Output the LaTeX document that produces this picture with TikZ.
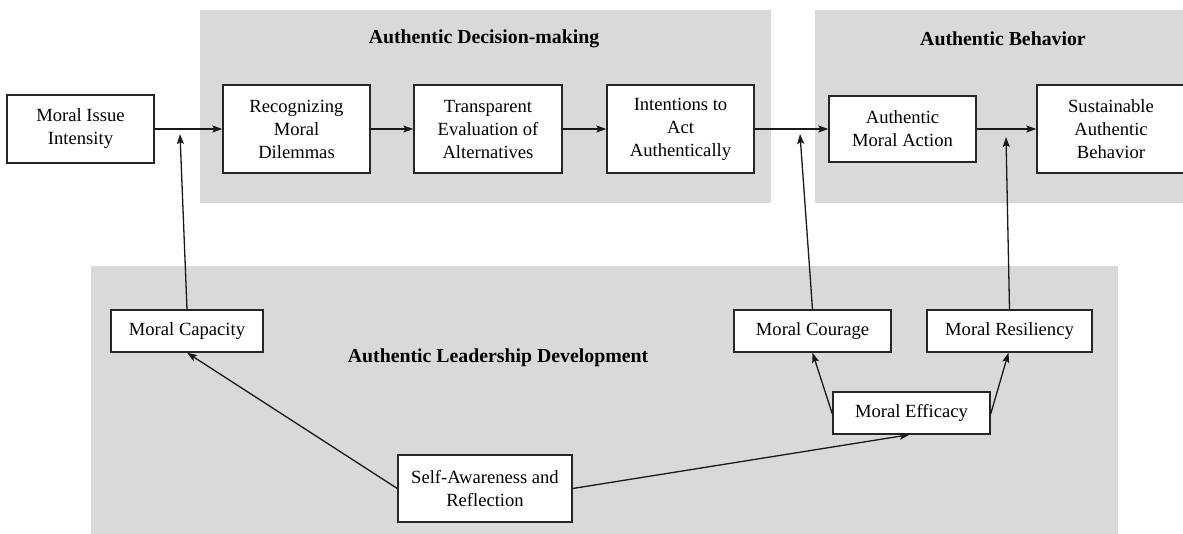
\documentclass[tikz,border=0pt]{standalone}
\usepackage{fontspec}
\setmainfont{Liberation Serif}
\usetikzlibrary{arrows.meta}
\definecolor{panelgrey}{HTML}{D9D9D9}
\begin{document}
\begin{tikzpicture}[x=1pt,y=-1pt,
  box/.style={draw=black!85, line width=1.4pt, fill=white, inner sep=0pt,
    align=center, font=\fontsize{18.6}{23}\selectfont},
  panel/.style={fill=panelgrey, draw=none},
  heading/.style={font=\fontsize{19.8}{24}\selectfont\bfseries, inner sep=0pt},
  arr/.style={draw=black!90, line width=1.3pt, -{Stealth[length=10pt,width=7pt,inset=2pt]}}]
\clip (0,0) rectangle (1183,533);
\fill[white] (0,0) rectangle (1183,533);

% background panels
\path[panel] (200,10) rectangle (771,203);
\path[panel] (815,10) rectangle (1190,203);
\path[panel] (91,266) rectangle (1118,540);

% panel headings
\node[heading] (hdm) at (484,39) {Authentic Decision-making};
\node[heading] (hab) at (1003,39) {Authentic Behavior};
\node[heading] (hld) at (498,358) {Authentic Leadership Development};

% main chain
\node[box, minimum width=147, minimum height=68] (mii) at (80.5,129) {Moral Issue\\Intensity};
\node[box, minimum width=147, minimum height=88] (rec) at (296.5,129) {Recognizing\\Moral\\Dilemmas};
\node[box, minimum width=148, minimum height=88] (tra) at (488,129) {Transparent\\Evaluation of\\Alternatives};
\node[box, minimum width=147, minimum height=88] (int) at (680.5,129) {Intentions to\\Act\\Authentically};
\node[box, minimum width=147, minimum height=66] (ama) at (902.5,129) {Authentic\\Moral Action};
\node[box, minimum width=148, minimum height=88] (sab) at (1111,129) {Sustainable\\Authentic\\Behavior};

% development components
\node[box, minimum width=152, minimum height=42] (cap) at (187,331) {Moral Capacity};
\node[box, minimum width=157, minimum height=42] (cou) at (812.5,331) {Moral Courage};
\node[box, minimum width=165, minimum height=42] (res) at (1009.5,331) {Moral Resiliency};
\node[box, minimum width=157, minimum height=42] (eff) at (911.5,413) {Moral Efficacy};
\node[box, minimum width=174, minimum height=67] (saw) at (485,488.5) {Self-Awareness and\\Reflection};

% moderating arrow ends, just under the chain
\coordinate (capend) at (180,134);
\coordinate (couend) at (800,134);
\coordinate (resend) at (1006,137);

% chain arrows
\draw[arr] (mii.east) -- (rec.west);
\draw[arr] (rec.east) -- (tra.west);
\draw[arr] (tra.east) -- (int.west);
\draw[arr] (int.east) -- (ama.west);
\draw[arr] (ama.east) -- (sab.west);

% moderators
\draw[arr] (cap.north) -- (capend);
\draw[arr] (cou.north) -- (couend);
\draw[arr] (res.north) -- (resend);

% development arrows
\draw[arr] (saw.west) -- (cap.south);
\draw[arr] (saw.east) -- ([xshift=-2pt]eff.south);
\draw[arr] ([yshift=-1pt]eff.west) -- (cou.south);
\draw[arr] ([yshift=-1pt]eff.east) -- ([xshift=-1pt]res.south);
\end{tikzpicture}
\end{document}
